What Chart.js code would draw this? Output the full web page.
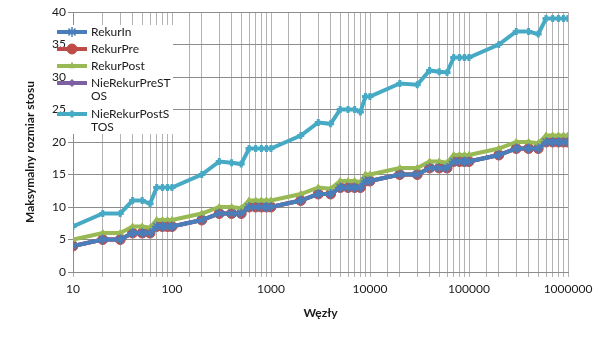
<!DOCTYPE html>
<html lang="pl">
<head>
<meta charset="utf-8">
<title>Maksymalny rozmiar stosu</title>
<script src="https://cdn.jsdelivr.net/npm/chart.js@4.4.1/dist/chart.umd.min.js"></script>
<style>
    html, body { margin: 0; padding: 0; background: #fff; }
    #wrap { width: 605px; height: 340px; }
</style>
</head>
<body>
<div id="wrap"><canvas id="stosChart" width="605" height="340"></canvas></div>
<script>
// Liczba węzłów drzewa (oś X, skala logarytmiczna)
const wezly = [
    10, 20, 30, 40, 50, 60, 70, 80, 90,
    100, 200, 300, 400, 500, 600, 700, 800, 900,
    1000, 2000, 3000, 4000, 5000, 6000, 7000, 8000, 9000,
    10000, 20000, 30000, 40000, 50000, 60000, 70000, 80000, 90000,
    100000, 200000, 300000, 400000, 500000, 600000, 700000, 800000, 900000,
    1000000
];

// Maksymalny rozmiar stosu dla każdej metody
const rekurIn = [
    4, 5, 5, 6, 6, 6, 7, 7, 7,
    7, 8, 9, 9, 9, 10, 10, 10, 10,
    10, 11, 12, 12, 13, 13, 13, 13, 14,
    14, 15, 15, 16, 16, 16, 17, 17, 17,
    17, 18, 19, 19, 19, 20, 20, 20, 20,
    20
];
const rekurPre = [
    4, 5, 5, 6, 6, 6, 7, 7, 7,
    7, 8, 9, 9, 9, 10, 10, 10, 10,
    10, 11, 12, 12, 13, 13, 13, 13, 14,
    14, 15, 15, 16, 16, 16, 17, 17, 17,
    17, 18, 19, 19, 19, 20, 20, 20, 20,
    20
];
const rekurPost = [
    5, 6, 6, 7, 7, 6.8, 8, 8, 8,
    8, 9, 10, 10, 9.8, 11, 11, 11, 11,
    11, 12, 13, 12.8, 14, 14, 14, 13.8, 15,
    15, 16, 16, 17, 17, 16.8, 18, 18, 18,
    18, 19, 20, 20, 19.8, 21, 21, 21, 21,
    21
];
const nieRekurPreSTOS = [
    4, 5, 5, 6, 6, 6, 7, 7, 7,
    7, 8, 9, 9, 9, 10, 10, 10, 10,
    10, 11, 12, 12, 13, 13, 13, 13, 14,
    14, 15, 15, 16, 16, 16, 17, 17, 17,
    17, 18, 19, 19, 19, 20, 20, 20, 20,
    20
];
const nieRekurPostSTOS = [
    7, 9, 9, 11, 11, 10.5, 13, 13, 13,
    13, 15, 17, 16.8, 16.6, 19, 19, 19, 19,
    19, 21, 23, 22.8, 25, 25, 25, 24.6, 27,
    27, 29, 28.8, 31, 30.8, 30.7, 33, 33, 33,
    33, 35, 37, 37, 36.6, 39, 39, 39, 39,
    39
];

// Opisy serii w legendzie (długie nazwy łamane jak w arkuszu)
const nazwySerii = ['RekurIn', 'RekurPre', 'RekurPost', 'NieRekurPreSTOS', 'NieRekurPostSTOS'];
const legendaLinie = [['RekurIn'], ['RekurPre'], ['RekurPost'], ['NieRekurPreST', 'OS'], ['NieRekurPostS', 'TOS']];

const FONT = 'Lato, "Open Sans", sans-serif';
const TYTUL_Y = 'Maksymalny rozmiar stosu';

const toPoints = (arr) => arr.map((v, i) => ({ x: wezly[i], y: v }));

const serie = [
    { data: rekurIn, color: '#4A7EBB', style: 'star', radius: 5, width: 1.5, order: 0 },
    { data: rekurPre, color: '#BE4B48', style: 'circle', radius: 5, width: 1, order: 2 },
    { data: rekurPost, color: '#98B954', style: 'triangle', radius: 3.5, width: 1, order: 1 },
    { data: nieRekurPreSTOS, color: '#7D60A0', style: 'rectRot', radius: 3.5, width: 1, order: 3 },
    { data: nieRekurPostSTOS, color: '#46AAC5', style: 'cross', radius: 3.5, width: 3, order: 4 }
];

const datasets = serie.map((s, i) => ({
    label: nazwySerii[i],
    data: toPoints(s.data),
    borderColor: s.color,
    backgroundColor: s.color,
    borderWidth: 4,
    pointStyle: s.style,
    pointRadius: s.radius,
    pointBorderWidth: s.width,
    pointBorderColor: s.color,
    pointBackgroundColor: s.color,
    tension: 0,
    order: s.order
}));

// Legenda wewnątrz obszaru wykresu i tytuł osi Y
const legendaPlugin = {
    id: 'legendaWewnatrz',
    afterDraw(chart) {
        const ctx = chart.ctx;
        ctx.save();
        ctx.fillStyle = '#fff';
        ctx.fillRect(68, 25, 105, 109);

        const wiersze = [32, 49, 66, 83, 114];
        ctx.font = '12px ' + FONT;
        ctx.textBaseline = 'middle';
        ctx.textAlign = 'left';
        serie.forEach((s, i) => {
            const y = wiersze[i];
            ctx.strokeStyle = s.color;
            ctx.fillStyle = s.color;
            ctx.lineWidth = 4;
            ctx.beginPath();
            ctx.moveTo(57, y);
            ctx.lineTo(87, y);
            ctx.stroke();
            ctx.lineWidth = s.width;
            Chart.helpers.drawPoint(ctx, {
                pointStyle: s.style,
                radius: s.radius,
                rotation: 0,
                borderWidth: s.width
            }, 72, y);
            ctx.fillStyle = '#1a1a1a';
            legendaLinie[i].forEach((t, j) => ctx.fillText(t, 91, y + j * 13.5));
        });

        ctx.translate(30, 152);
        ctx.rotate(-Math.PI / 2);
        ctx.textAlign = 'center';
        ctx.font = 'bold 12px ' + FONT;
        ctx.fillText(TYTUL_Y, 0, 0);
        ctx.restore();
    }
};

new Chart(document.getElementById('stosChart'), {
    type: 'line',
    data: { datasets },
    plugins: [legendaPlugin],
    options: {
        responsive: false,
        animation: false,
        layout: { padding: { top: 12, right: 37, bottom: 0, left: 0 } },
        plugins: {
            legend: { display: false },
            tooltip: { enabled: false }
        },
        scales: {
            x: {
                type: 'logarithmic',
                min: 10,
                max: 1000000,
                afterFit: (scale) => { scale.height = 68; },
                grid: { color: '#B3B3B3', lineWidth: 1, tickLength: 5, drawTicks: true },
                border: { color: '#8C8C8C', width: 1 },
                ticks: {
                    autoSkip: false,
                    maxRotation: 0,
                    padding: 5,
                    color: '#1a1a1a',
                    font: { family: FONT, size: 12 },
                    callback: (value) => {
                        const p = Math.log10(value);
                        return Math.abs(p - Math.round(p)) < 1e-9 ? String(value) : '';
                    }
                },
                title: {
                    display: true,
                    text: 'Węzły',
                    color: '#1a1a1a',
                    font: { family: FONT, size: 12, weight: 'bold' },
                    padding: { top: 6, bottom: 20 }
                }
            },
            y: {
                min: 0,
                max: 40,
                afterFit: (scale) => { scale.width = 73; },
                grid: { color: '#8C8C8C', lineWidth: 1, tickLength: 5 },
                border: { color: '#8C8C8C', width: 1 },
                ticks: {
                    stepSize: 5,
                    padding: 2,
                    color: '#1a1a1a',
                    font: { family: FONT, size: 12 }
                }
            }
        }
    }
});
</script>
</body>
</html>
